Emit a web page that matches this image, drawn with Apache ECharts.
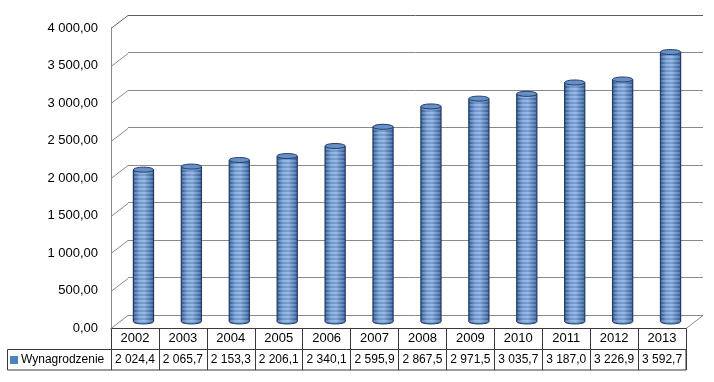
<!DOCTYPE html>
<html>
<head>
<meta charset="utf-8">
<script src="https://cdn.jsdelivr.net/npm/echarts@6/dist/echarts.min.js"></script>
<style>html,body{margin:0;padding:0;background:#fff;}#c{width:714px;height:382px;}</style>
</head>
<body>
<div id="c"></div>
<script>
const years = ['2002','2003','2004','2005','2006','2007','2008','2009','2010','2011','2012','2013'];
const wages = [2024.4, 2065.7, 2153.3, 2206.1, 2340.1, 2595.9, 2867.5, 2971.5, 3035.7, 3187.0, 3226.9, 3592.7];
const yTicks = [0, 500, 1000, 1500, 2000, 2500, 3000, 3500, 4000];
const seriesName = 'Wynagrodzenie';

function fmt(v, d) {
  const s = v.toFixed(d).split('.');
  const i = s[0].replace(/\B(?=(\d{3})+(?!\d))/g, ' ');
  return d > 0 ? i + ',' + s[1] : i;
}

const DX = 17, DY = 13;
const FONT = 'Liberation Sans';

// stripe pattern
const pc = document.createElement('canvas');
pc.width = 4; pc.height = 4;
const pctx = pc.getContext('2d');
pctx.fillStyle = 'rgba(255,255,255,0.16)'; pctx.fillRect(0, 0, 4, 2);
pctx.fillStyle = 'rgba(10,30,70,0.10)'; pctx.fillRect(0, 2, 4, 2);

const bodyGrad = () => new echarts.graphic.LinearGradient(0, 0, 1, 0, [
  {offset: 0, color: '#34609b'},
  {offset: 0.3, color: '#7aa3da'},
  {offset: 0.55, color: '#86addf'},
  {offset: 1, color: '#36629e'}
]);

const chart = echarts.init(document.getElementById('c'));
chart.setOption({
  animation: false,
  textStyle: {fontFamily: FONT},
  grid: [
    {left: 128, right: 11, top: 15, bottom: 67},
    {left: 111, right: 28, top: 28, bottom: 54}
  ],
  xAxis: [
    {type: 'category', gridIndex: 0, data: years, show: false},
    {type: 'category', gridIndex: 1, data: years, position: 'bottom',
      axisLine: {show: true, lineStyle: {color: '#3a3a3a', width: 1}},
      axisTick: {show: true, length: 21, interval: 0, lineStyle: {color: '#3a3a3a'}},
      axisLabel: {margin: 4, fontSize: 13, interval: 0, color: '#000', fontFamily: FONT},
      splitLine: {show: false}},
    {type: 'category', gridIndex: 1, data: wages.map(v => fmt(v, 1)), position: 'bottom', offset: 21,
      axisLine: {show: false},
      axisTick: {show: true, length: 21, interval: 0, lineStyle: {color: '#3a3a3a'}},
      axisLabel: {margin: 5, fontSize: 12, interval: 0, hideOverlap: false, color: '#000', fontFamily: FONT}}
  ],
  yAxis: [
    {type: 'value', gridIndex: 0, min: 0, max: 4000, interval: 500,
      axisLine: {show: false}, axisTick: {show: false}, axisLabel: {show: false},
      splitLine: {show: true, lineStyle: {width: 1, color: ['#8a8a8a','#8a8a8a','#8a8a8a','#8a8a8a','#8a8a8a','#8a8a8a','#8a8a8a','#8a8a8a','#5e5e5e']}}},
    {type: 'value', gridIndex: 1, min: 0, max: 4000, interval: 500,
      axisLine: {show: true, lineStyle: {color: '#8a8a8a'}}, axisTick: {show: false},
      splitLine: {show: false},
      axisLabel: {margin: 13, fontSize: 13, color: '#000', fontFamily: FONT, formatter: v => fmt(v, 2)}}
  ],
  legend: {
    data: [seriesName], left: 10, top: 354, icon: 'rect', itemWidth: 8, itemHeight: 8, itemGap: 0,
    padding: 0, textStyle: {fontSize: 12, color: '#000', fontFamily: FONT, padding: [0, 0, 0, -2]},
    selectedMode: false
  },
  graphic: [
    {type: 'rect', shape: {x: 7.5, y: 349.5, width: 678.5, height: 20.5}, style: {fill: 'none', stroke: '#3a3a3a', lineWidth: 1}, silent: true, z: 10}
  ],
  series: [
    {
      type: 'custom', name: 'diag', xAxisIndex: 0, yAxisIndex: 0, silent: true,
      data: yTicks.map(v => [0, v]),
      renderItem: function (params, api) {
        const cs = params.coordSys;
        const p = api.coord([0, api.value(1)]);
        const y = Math.round(p[1]) + 0.5;
        const col = api.value(1) === 4000 ? '#5e5e5e' : '#8a8a8a';
        const children = [{type: 'line', shape: {x1: cs.x, y1: y, x2: cs.x - DX, y2: y + DY}, style: {stroke: col, lineWidth: 1}}];
        if (api.value(1) === 0) {
          children.push({type: 'line', shape: {x1: cs.x + cs.width, y1: y, x2: cs.x + cs.width - DX, y2: y + DY}, style: {stroke: '#8a8a8a', lineWidth: 1}});
        }
        return {type: 'group', children: children};
      }
    },
    {
      type: 'custom', name: seriesName, xAxisIndex: 0, yAxisIndex: 0,
      itemStyle: {color: '#4f81bd'},
      data: wages.map((v, i) => [i, v]),
      z: 5,
      renderItem: function (params, api) {
        const top = api.coord([api.value(0), api.value(1)]);
        const bot = api.coord([api.value(0), 0]);
        const cx = top[0] - DX / 2;
        const ty = top[1] + DY / 2;
        const by = bot[1] + DY / 2;
        const w = api.size([1, 0])[0] * 0.42;
        const rx = w / 2, ry = 2.5;
        const stroke = '#1f3b66';
        return {
          type: 'group',
          children: [
            {type: 'ellipse', shape: {cx: cx, cy: by, rx: rx, ry: ry}, style: {fill: bodyGrad(), stroke: stroke, lineWidth: 1}},
            {type: 'rect', shape: {x: cx - rx, y: ty, width: w, height: by - ty}, style: {fill: bodyGrad()}},
            {type: 'rect', shape: {x: cx - rx, y: ty, width: w, height: by - ty + ry}, style: {fill: {image: pc, repeat: 'repeat'}}},
            {type: 'line', shape: {x1: cx - rx, y1: ty, x2: cx - rx, y2: by}, style: {stroke: stroke, lineWidth: 1.2}},
            {type: 'line', shape: {x1: cx + rx, y1: ty, x2: cx + rx, y2: by}, style: {stroke: stroke, lineWidth: 1.2}},
            {type: 'ellipse', shape: {cx: cx, cy: ty, rx: rx, ry: ry}, style: {fill: '#6890c8', stroke: stroke, lineWidth: 1}}
          ]
        };
      }
    }
  ]
});
</script>
</body>
</html>
